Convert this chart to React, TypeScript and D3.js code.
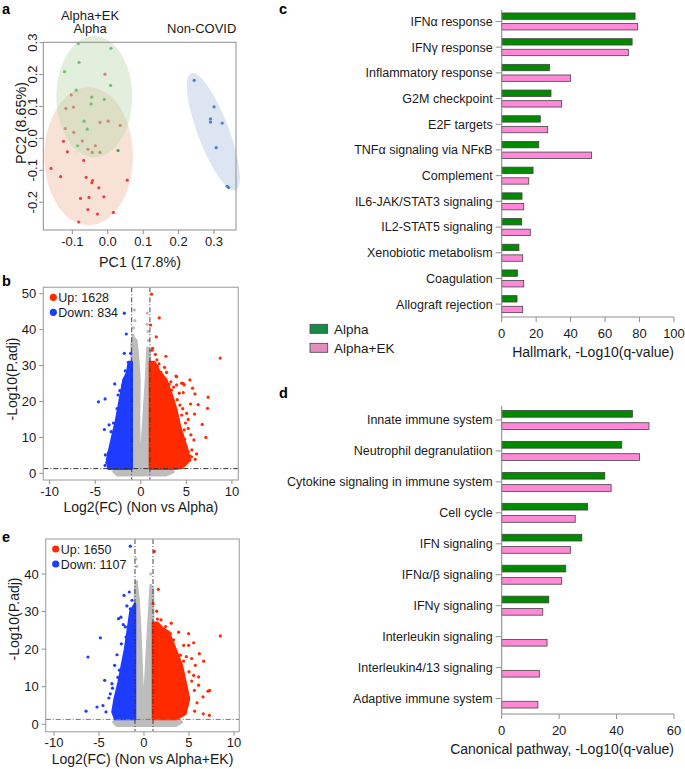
import React from 'react';
import * as d3 from 'd3';

const FONT = '"Liberation Sans", Arial, Helvetica, sans-serif';
const TEXT = '#1a1a1a';
const AXIS = '#8f8f8f';

// ---------- panel a : PCA ----------
const pcaXTicks = [-0.1, 0, 0.1, 0.2, 0.3];
const pcaYTicks = [-0.2, -0.1, 0, 0.1, 0.2, 0.3];
// green group
const pcaAlpha: [number, number][] = [
  [-0.083, 0.297], [0.009, 0.282], [-0.081, 0.238], [-0.122, 0.209], [0.008, 0.166],
  [-0.089, 0.151], [-0.045, 0.129], [-0.047, 0.108], [-0.01, 0.122], [-0.067, 0.054],
  [-0.058, 0.029], [-0.085, -0.023], [0.029, -0.038],
];
// red group
const pcaAlphaEK: [number, number][] = [
  [-0.008, 0.201], [-0.103, 0.136], [-0.118, 0.094], [-0.097, 0.098], [-0.022, 0.05],
  [0.001, 0.054], [0.035, 0.041], [-0.12, 0.031], [-0.096, 0.019], [-0.072, -0.008],
  [-0.035, -0.023], [-0.056, -0.034], [-0.044, -0.044], [-0.022, -0.044], [-0.125, -0.009],
  [-0.114, -0.042], [-0.068, -0.069], [-0.16, -0.094], [-0.133, -0.12], [-0.061, -0.122],
  [-0.043, -0.132], [-0.045, -0.139], [0.055, -0.131], [-0.025, -0.155], [-0.077, -0.188],
  [-0.053, -0.185], [-0.011, -0.183], [-0.056, -0.223], [-0.029, -0.237], [0.016, -0.232],
  [-0.082, -0.262],
];
const pcaNonCovid: [number, number][] = [
  [0.244, 0.182], [0.3, 0.099], [0.29, 0.061], [0.29, 0.051], [0.323, 0.048],
  [0.306, -0.029], [0.337, -0.15], [0.341, -0.154],
];
// ellipses: centre + two semi-axis vectors, data units
const ellAlpha = { cx: -0.038, cy: 0.131, ux: 0.107, uy: 0, vx: 0, vy: 0.19 };
const ellAlphaEK = { cx: -0.054, cy: -0.056, ux: 0.125, uy: 0, vx: 0, vy: 0.216 };
const ellNon = { cx: 0.298, cy: 0.021, ux: 0.0625, uy: -0.183, vx: 0.041, vy: 0.0172 };

// ---------- panels b / e : volcano ----------
const volXTicks = [-10, -5, 0, 5, 10];
const bYTicks = [0, 10, 20, 30, 40, 50];
const eYTicks = [0, 10, 20, 30, 40];

// dense cores (outline of the solid point mass)
const bUpCloud = [[1, 1.3], [1, 31], [1.5, 31], [2, 28.5], [2.8, 26], [3.5, 21], [3.9, 17.6], [4.3, 13], [5.0, 7.4], [5.4, 3.7], [4.5, 1.5], [3.6, 1.3]];
const bDownCloud = [[-1, 1.3], [-1, 31], [-1.3, 31], [-1.5, 28], [-1.9, 26], [-2.3, 20.4], [-2.7, 14.8], [-3.2, 9.3], [-3.7, 3.7], [-3.55, 1.3]];
const bGreyCloud = [[-3.0, 0.5], [-2.6, -0.5], [2.8, -0.5], [3.6, 0.4], [3.2, 1.3], [1, 1.3], [1, 34], [0.75, 35], [0.57, 26], [0.3, 15], [0.1, 7.4], [0, 4.5], [-0.16, 7.4], [-0.2, 15], [-0.15, 26], [-0.3, 32], [-0.5, 37], [-0.85, 38], [-1, 36], [-1, 1.3], [-2.8, 1.3]];
const bUp = [
  [1.19, 49.9], [2.03, 43.3], [1.08, 41.3], [1.7, 38.0], [1.23, 34.3], [1.3, 34.8], [1.59, 33.1], [2.76, 32.6],
  [1.77, 31.6], [8.71, 32.1], [3.86, 27.1], [2.83, 28.1], [2.21, 28.1], [4.66, 25.0], [2.54, 25.2], [3.93, 26.9],
  [4.48, 25.1], [5.39, 26.0], [5.68, 23.7], [4.77, 24.6], [7.39, 21.2], [7.33, 18.1], [7.14, 10.0], [6.74, 13.6],
  [5.94, 22.1], [6.3, 19.1], [5.9, 16.5], [5.46, 19.3], [5.2, 15.0], [4.77, 12.1], [5.83, 9.3], [6.12, 5.4],
  [5.97, 3.9], [5.39, 4.8], [4.66, 22.5], [3.93, 24.6], [4.22, 22.3], [3.38, 23.2], [4.29, 19.0], [5.03, 16.7],
  [5.5, 10.7], [4.6, 18], [4.9, 14], [5.2, 12.5], [4.8, 9.5], [5.6, 6.5], [3.6, 24], [3.1, 24.8], [2.6, 29.5], [2.0, 30.5],
  [5.2, 6.0], [5.57, 4.6], [4.48, 2.3], [4.0, 20.5], [3.3, 25.5], [2.4, 27.2], [1.8, 29.8], [4.5, 16.2],
];
const bDown = [
  [-1.81, 44.6], [-1.59, 38.8], [-1.81, 33.4], [-1.11, 33.4], [-1.37, 30.9], [-1.26, 29.7], [-2.86, 24.9], [-4.65, 19.9],
  [-3.92, 20.7], [-2.17, 19.9], [-3.48, 13.5], [-4.0, 12.2], [-3.26, 11.6], [-3.56, 5.6], [-3.89, 5.1], [-3.74, 3.0],
  [-3.01, 8.4], [-2.72, 10.2], [-2.46, 16.7], [-3.92, 2.2], [-2.3, 23], [-2.0, 24.5], [-2.6, 18], [-3.0, 14],
  [-1.7, 28.5], [-2.5, 21.8], [-3.3, 7.2], [-2.9, 12.2],
];
const bGrey = [[-0.71, 45.5], [0.71, 44.6], [-0.8, 40.5], [-0.65, 42.5], [0.8, 39.5], [0.7, 41.5], [-0.85, 38.5], [0.85, 37]];

const eUpCloud = [[1, 1.4], [1, 27], [1.5, 27], [2.1, 25.5], [2.75, 24.5], [3.5, 20], [4.2, 15.7], [4.6, 11.3], [5.0, 6.8], [4.6, 2.8], [3.6, 1.4]];
const eDownCloud = [[-1, 1.4], [-1, 32], [-1.5, 30], [-1.8, 25], [-2.1, 20], [-2.45, 15.7], [-2.8, 11.3], [-3.25, 6.8], [-3.5, 3.3], [-3.2, 1.4]];
const eGreyCloud = [[-3.4, 0.6], [-3.0, -0.4], [3.5, -0.4], [4.2, 0.6], [3.5, 1.4], [1, 1.4], [1, 36], [0.75, 37], [0.44, 24.5], [0.15, 11.3], [0, 5], [-0.2, 11.3], [-0.41, 24.5], [-0.6, 33], [-0.85, 38], [-1, 36], [-1, 1.4], [-3.0, 1.4]];
const eUp = [
  [1.15, 46.0], [1.59, 35.9], [1.0, 32.1], [1.41, 30.1], [1.26, 26.7], [1.5, 28], [3.03, 26.9], [2.93, 24.1],
  [4.96, 24.1], [8.48, 23.5], [7.11, 8.8], [7.3, 9.0], [6.56, 7.3], [5.89, 5.7], [5.63, 3.5], [7.26, 2.4],
  [6.59, 2.8], [6.63, 16.8], [6.15, 18.8], [5.52, 21.7], [4.96, 21.0], [4.41, 21.0], [4.04, 18.4], [5.7, 15.7],
  [6.07, 12.6], [5.52, 13.0], [6.07, 10.4], [5.0, 14], [3.85, 24.5], [3.3, 22.5], [4.7, 18], [5.3, 17.5],
  [5.6, 9], [5.3, 11.5], [4.8, 8.5], [2.4, 26], [1.9, 27.8], [4.4, 16.8],
];
const eDown = [
  [-1.52, 47.4], [-1.63, 35.2], [-1.33, 33.0], [-2.22, 34.3], [-2.56, 28.5], [-2.82, 28.1], [-2.07, 25.9], [-1.52, 30.7],
  [-4.85, 23.0], [-6.22, 17.9], [-4.37, 11.7], [-3.56, 10.8], [-3.74, 8.1], [-4.56, 5.0], [-5.22, 4.6], [-6.44, 3.5],
  [-4.22, 3.3], [-2.52, 21.4], [-2.74, 14.4], [-3.26, 15.7], [-2.9, 12.5], [-3.0, 18.5], [-3.9, 7], [-2.3, 26.5],
  [-2.0, 23.2], [-3.5, 9.6], [-1.9, 31.5],
];
const eGrey = [[-0.85, 37.8], [0.78, 34.6], [0.59, 25.9], [-0.8, 42], [0.75, 40], [-0.9, 44]];

// ---------- panel c : hallmark ----------
const hallmarkCats = [
  'IFNα response', 'IFNγ response', 'Inflammatory response', 'G2M checkpoint', 'E2F targets',
  'TNFα signaling via NFκB', 'Complement', 'IL6-JAK/STAT3 signaling', 'IL2-STAT5 signaling',
  'Xenobiotic metabolism', 'Coagulation', 'Allograft rejection',
];
const hallmarkAlpha = [77.4, 75.7, 27.8, 28.6, 22.4, 21.5, 18.2, 11.8, 11.6, 10.0, 9.1, 8.9];
const hallmarkAlphaEK = [78.9, 73.5, 40.0, 34.8, 26.7, 52.2, 15.7, 12.8, 16.6, 12.2, 12.8, 12.2];
const hallmarkTicks = [0, 20, 40, 60, 80, 100];

// ---------- panel d : canonical pathway ----------
const pathwayCats = [
  'Innate immune system', 'Neutrophil degranulatiion', 'Cytokine signaling in immune system', 'Cell cycle',
  'IFN signaling', 'IFNα/β signaling', 'IFNγ signaling', 'Interleukin signaling',
  'Interleukin4/13 signaling', 'Adaptive immune system',
];
const pathwayAlpha = [45.5, 41.8, 35.9, 29.9, 27.9, 22.3, 16.4, null, null, null];
const pathwayAlphaEK = [51.3, 48.0, 38.1, 25.6, 23.9, 20.9, 14.3, 15.8, 13.1, 12.6];
const pathwayTicks = [0, 20, 40, 60];

const series = ['Alpha', 'Alpha+EK'];
const GREEN = '#008a00';
const PINK = '#ff88d8';

function ellipsePath(e: any, x: any, y: any) {
  const pts = d3.range(0, 361, 3).map(deg => {
    const t = (deg * Math.PI) / 180;
    return [x(e.cx + e.ux * Math.cos(t) + e.vx * Math.sin(t)), y(e.cy + e.uy * Math.cos(t) + e.vy * Math.sin(t))] as [number, number];
  });
  return d3.line()(pts) + 'Z';
}

function PcaPanel() {
  const x = d3.scaleLinear().domain([-0.182, 0.362]).range([43.3, 236]);
  const y = d3.scaleLinear().domain([-0.287, 0.301]).range([230, 42.3]);
  const dots = (pts: [number, number][], col: string) =>
    pts.map((p, i) => <circle key={col + i} cx={x(p[0])} cy={y(p[1])} r={1.6} fill={col} />);
  return (
    <g>
      <path d={ellipsePath(ellAlphaEK, x, y)} fill="#f8e2d6" />
      <path d={ellipsePath(ellNon, x, y)} fill="#dde4f2" />
      {dots(pcaAlphaEK, '#e8414a')}
      {dots(pcaAlpha, '#3aa845')}
      {dots(pcaNonCovid, '#4a7fcf')}
      <path d={ellipsePath(ellAlpha, x, y)} fill="#bcdcb2" fillOpacity={0.45} />
      <rect x={43.3} y={42.3} width={236 - 43.3} height={230 - 42.3} fill="none" stroke={AXIS} strokeWidth={1} />
      {pcaXTicks.map(t => (
        <g key={'x' + t}>
          <line x1={x(t)} x2={x(t)} y1={230} y2={234} stroke={AXIS} />
          <text x={x(t)} y={246} textAnchor="middle" fontSize={13} fill={TEXT}>{t.toFixed(1)}</text>
        </g>
      ))}
      {pcaYTicks.map(t => (
        <g key={'y' + t}>
          <line x1={39.3} x2={43.3} y1={y(t)} y2={y(t)} stroke={AXIS} />
          <text transform={`translate(37,${y(t)}) rotate(-90)`} textAnchor="middle" fontSize={13} fill={TEXT}>{t.toFixed(1)}</text>
        </g>
      ))}
      <text x={140} y={267} textAnchor="middle" fontSize={14.3} fill={TEXT}>PC1 (17.8%)</text>
      <text transform="translate(25.5,123) rotate(-90)" textAnchor="middle" fontSize={14.3} fill={TEXT}>PC2 (8.65%)</text>
      <text x={90} y={19.5} textAnchor="middle" fontSize={13} fill={TEXT}>Alpha+EK</text>
      <text x={90} y={33} textAnchor="middle" fontSize={13} fill={TEXT}>Alpha</text>
      <text x={201.7} y={33} textAnchor="middle" fontSize={13} fill={TEXT}>Non-COVID</text>
    </g>
  );
}

const RED = '#ff2a00';
const BLUE = '#1e3cff';
const GREY = '#bdbdbd';

function Volcano(p: any) {
  const { left, right, top, bottom } = p;
  const x = d3.scaleLinear().domain(p.xDomain).range([left, right]);
  const y = d3.scaleLinear().domain(p.yDomain).range([bottom, top]);
  const area = (pts: number[][]) => d3.line<number[]>().x(d => x(d[0])).y(d => y(d[1]))(pts) + 'Z';
  const cloud = (pts: number[][], col: string) => (
    <path d={area(pts)} fill={col} stroke={col} strokeWidth={2.6} strokeLinejoin="round" />
  );
  const dots = (pts: number[][], col: string) =>
    pts.map((d, i) => <circle key={col + i} cx={x(d[0])} cy={y(d[1])} r={1.6} fill={col} />);
  const thr = 1.3;
  const id = 'clip' + p.id;
  return (
    <g>
      <clipPath id={id}><rect x={left} y={top} width={right - left} height={bottom - top} /></clipPath>
      <g clipPath={`url(#${id})`}>
        {cloud(p.greyCloud, GREY)}
        {cloud(p.downCloud, BLUE)}
        {cloud(p.upCloud, RED)}
        {dots(p.grey, GREY)}
        {dots(p.down, BLUE)}
        {dots(p.up, RED)}
        {[-1, 1].map(v => (
          <line key={v} x1={x(v)} x2={x(v)} y1={top} y2={bottom} stroke="#333" strokeWidth={0.9} strokeDasharray="5,2,1,2" />
        ))}
        <line x1={left} x2={right} y1={y(thr)} y2={y(thr)} stroke={p.hColor} strokeWidth={1} strokeDasharray="5,2,1,2" />
      </g>
      <rect x={left} y={top} width={right - left} height={bottom - top} fill="none" stroke="#aaa" strokeWidth={1.2} />
      {volXTicks.map(t => (
        <g key={'x' + t}>
          <line x1={x(t)} x2={x(t)} y1={bottom} y2={bottom + 4} stroke={AXIS} />
          <text x={x(t)} y={bottom + 15.5} textAnchor="middle" fontSize={13} fill={TEXT}>{String(t)}</text>
        </g>
      ))}
      {p.yTicks.map((t: number) => (
        <g key={'y' + t}>
          <line x1={left - 4} x2={left} y1={y(t)} y2={y(t)} stroke={AXIS} />
          <text x={left - 7} y={y(t)} dy="0.35em" textAnchor="end" fontSize={13} fill={TEXT}>{String(t)}</text>
        </g>
      ))}
      <circle cx={left + 10} cy={top + 10} r={3.6} fill={RED} />
      <text x={left + 15} y={top + 10} dy="0.36em" fontSize={12.5} fill={TEXT}>{`Up: ${p.upN}`}</text>
      <circle cx={left + 10} cy={top + 25} r={3.6} fill={BLUE} />
      <text x={left + 15} y={top + 25} dy="0.36em" fontSize={12.5} fill={TEXT}>{`Down: ${p.downN}`}</text>
      <text x={(left + right) / 2} y={bottom + p.xLabelOff} textAnchor="middle" fontSize={14} fill={TEXT}>{p.xLabel}</text>
      <text transform={`translate(${p.yLabelX},${p.yLabelY}) rotate(-90)`} textAnchor="middle" fontSize={14} fill={TEXT}>-Log10(P.adj)</text>
    </g>
  );
}

function BarPanel(p: any) {
  const x0 = 501.7;
  const x = d3.scaleLinear().domain([0, p.xMax]).range([x0, 674]);
  const y = d3.scaleBand<string>().domain(p.cats).range([p.top, p.bottom]);
  const sub = d3.scaleBand<string>().domain(series).range([-p.half, p.half]).paddingInner(p.pad);
  const axisTop = p.top + 1.5;
  return (
    <g>
      {p.cats.map((c: string, i: number) => {
        const cy = (y(c) as number) + y.bandwidth() / 2;
        const vals = [p.alpha[i], p.alphaEK[i]];
        return (
          <g key={c}>
            {vals.map((v, j) =>
              v == null ? null : (
                <rect key={j} x={x0} y={cy + (sub(series[j]) as number)} width={x(v) - x0} height={sub.bandwidth()}
                  fill={j === 0 ? GREEN : PINK} stroke="#444" strokeWidth={0.8} />
              ))}
            <line x1={x0 - 6} x2={x0} y1={cy} y2={cy} stroke={AXIS} />
            <text x={x0 - 9} y={cy} dy="0.35em" textAnchor="end" fontSize={12.5} fill={TEXT}>{c}</text>
          </g>
        );
      })}
      <line x1={x0} x2={x0} y1={axisTop} y2={p.bottom} stroke={AXIS} strokeWidth={1.1} />
      <line x1={x0} x2={674} y1={p.bottom} y2={p.bottom} stroke={AXIS} strokeWidth={1.1} />
      {p.ticks.map((t: number) => (
        <g key={t}>
          <line x1={x(t)} x2={x(t)} y1={p.bottom} y2={p.bottom + 5} stroke={AXIS} />
          <text x={x(t)} y={p.bottom + 20.5} textAnchor="middle" fontSize={13} fill={TEXT}>{String(t)}</text>
        </g>
      ))}
      <text x={674} y={p.bottom + 40} textAnchor="end" fontSize={14} fill={TEXT}>{p.title}</text>
    </g>
  );
}

export default function App() {
  return (
    <svg width={685} height={769} style={{ position: 'absolute', left: 0, top: 0 }} fontFamily={FONT}>
      <rect width={685} height={769} fill="#fff" />
      <PcaPanel />
      <Volcano id="b" left={43.3} right={238.3} top={287.3} bottom={480} xDomain={[-10.7, 10.7]} yDomain={[-1.87, 51.8]}
        yTicks={bYTicks} up={bUp} down={bDown} grey={bGrey} upCloud={bUpCloud} downCloud={bDownCloud} greyCloud={bGreyCloud}
        upN={1628} downN={834} xLabel="Log2(FC) (Non vs Alpha)" xLabelOff={31.5} yLabelX={17} yLabelY={379} hColor="#333" />
      <Volcano id="e" left={45.7} right={239.3} top={539} bottom={731.7} xDomain={[-10.92, 10.59]} yDomain={[-1.97, 49.3]}
        yTicks={eYTicks} up={eUp} down={eDown} grey={eGrey} upCloud={eUpCloud} downCloud={eDownCloud} greyCloud={eGreyCloud}
        upN={1650} downN={1107} xLabel="Log2(FC) (Non vs Alpha+EK)" xLabelOff={32.5} yLabelX={18.5} yLabelY={619} hColor="#777" />
      <BarPanel cats={hallmarkCats} alpha={hallmarkAlpha} alphaEK={hallmarkAlphaEK} top={8.6} bottom={317} xMax={100}
        ticks={hallmarkTicks} half={8.5} pad={0.4} title="Hallmark, -Log10(q-value)" />
      <BarPanel cats={pathwayCats} alpha={pathwayAlpha} alphaEK={pathwayAlphaEK} top={404.5} bottom={714} xMax={60}
        ticks={pathwayTicks} half={9.5} pad={0.45} title="Canonical pathway, -Log10(q-value)" />
      {series.map((s, i) => (
        <g key={s}>
          <rect x={310} y={324.3 + i * 19} width={17.7} height={9} fill={i === 0 ? '#178a47' : '#e28fbd'} stroke="#444" strokeWidth={0.8} />
          <text x={334} y={328.8 + i * 19} dy="0.36em" fontSize={13.5} fill={TEXT}>{s}</text>
        </g>
      ))}
      <g fontWeight="bold" fontSize={14.5} fill="#000">
        <text x={2} y={13.5}>a</text>
        <text x={2} y={286}>b</text>
        <text x={2} y={541.5}>e</text>
        <text x={279} y={13.5}>c</text>
        <text x={279} y={398}>d</text>
      </g>
    </svg>
  );
}
